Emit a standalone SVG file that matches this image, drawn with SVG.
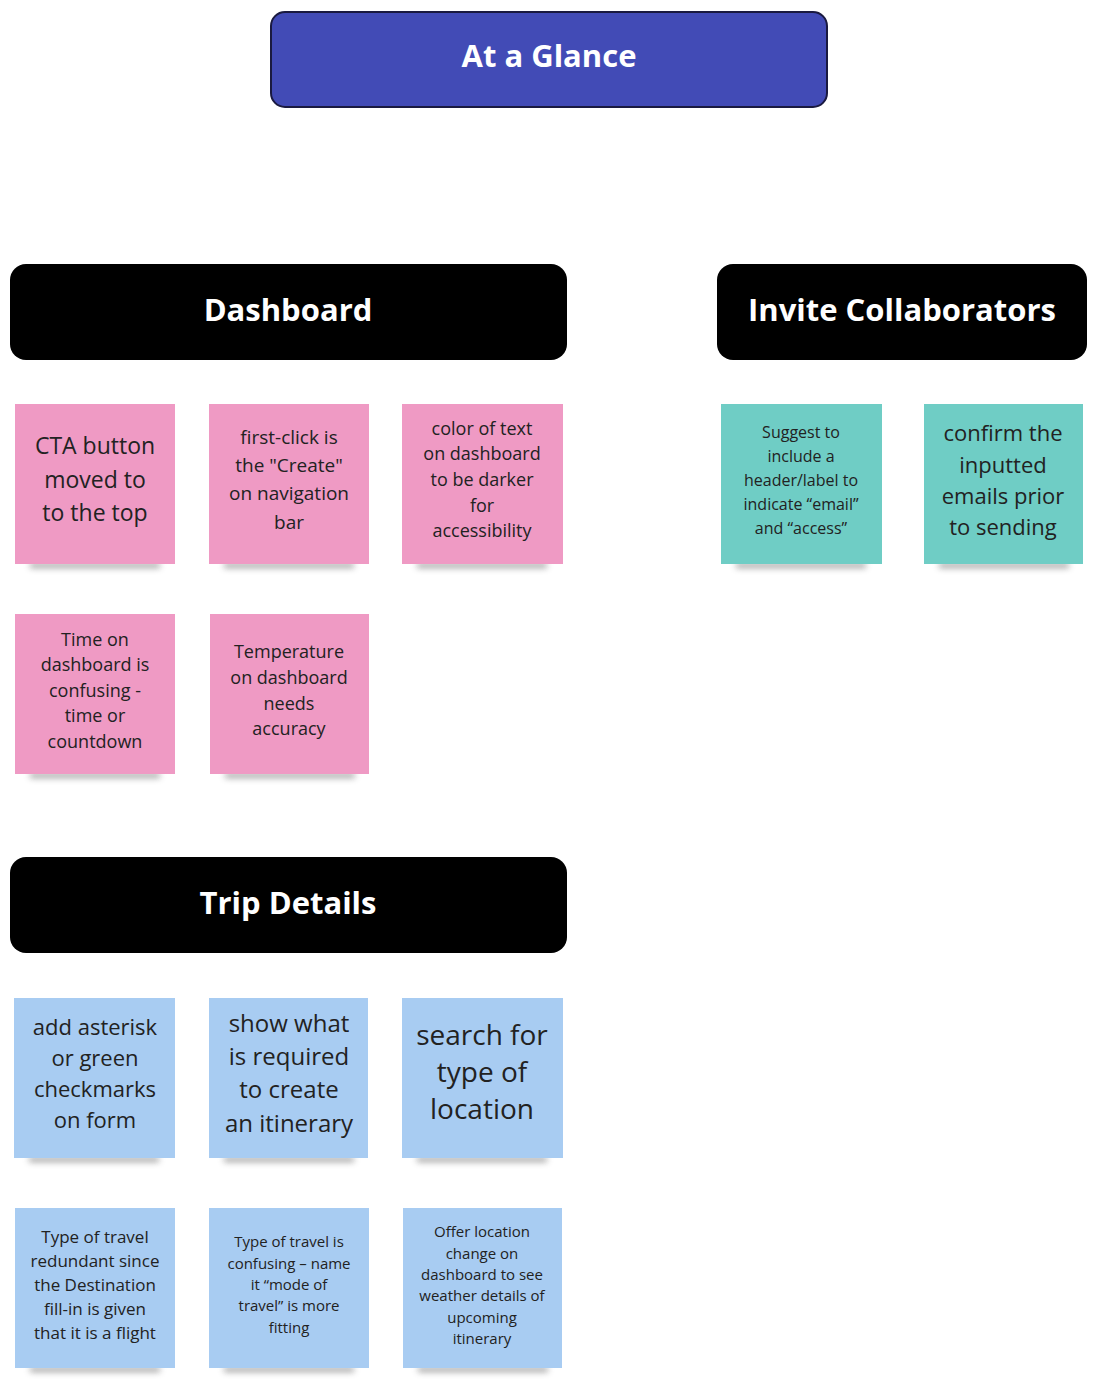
<svg xmlns="http://www.w3.org/2000/svg" width="1104" height="1386" viewBox="0 0 1104 1386">
<style>
text{font-family:"Open Sans","Noto Sans",sans-serif;text-anchor:middle;fill:#222}
.h{fill:#fff;font-weight:bold;font-size:31px}
.hd{fill:#000;rx:16px}
.pk{fill:#EF9AC4}.tl{fill:#6FCDC5}.bl{fill:#A8CCF2}
.sh{fill:#555;opacity:.55;filter:url(#b)}
</style>
<defs><filter id="b" x="-20%" y="-200%" width="140%" height="500%"><feGaussianBlur stdDeviation="3"/></filter></defs>
<rect width="1104" height="1386" fill="#fff"/>
<g id="title"><rect x="271" y="12" width="556" height="95" rx="14" fill="#424BB6" stroke="#1a1a40" stroke-width="2"/><text class="h" x="549" y="67">At a Glance</text></g>
<g id="dashboard"><rect class="hd" x="10" y="264" width="557" height="96" rx="16"/><text class="h" x="288" y="321">Dashboard</text></g>
<g id="invite"><rect class="hd" x="717" y="264" width="370" height="96" rx="16"/><text class="h" x="902" y="321">Invite Collaborators</text></g>
<g id="trip"><rect class="hd" x="10" y="857" width="557" height="96" rx="16"/><text class="h" x="288" y="914">Trip Details</text></g>
<g id="connectors"/>
<g id="d1"><rect class="sh" x="30" y="563" width="130" height="5"/><rect class="pk" x="15" y="404" width="160" height="160"/><text font-size="23"><tspan x="95" y="454">CTA button</tspan><tspan x="95" y="488">moved to</tspan><tspan x="95" y="521">to the top</tspan></text></g>
<g id="d2"><rect class="sh" x="224" y="563" width="130" height="5"/><rect class="pk" x="209" y="404" width="160" height="160"/><text font-size="19"><tspan x="289" y="444">first-click is</tspan><tspan x="289" y="472">the "Create"</tspan><tspan x="289" y="500">on navigation</tspan><tspan x="289" y="529">bar</tspan></text></g>
<g id="d3"><rect class="sh" x="417" y="563" width="130" height="5"/><rect class="pk" x="402" y="404" width="161" height="160"/><text font-size="18"><tspan x="482" y="435">color of text</tspan><tspan x="482" y="460">on dashboard</tspan><tspan x="482" y="486">to be darker</tspan><tspan x="482" y="512">for</tspan><tspan x="482" y="537">accessibility</tspan></text></g>
<g id="d4"><rect class="sh" x="30" y="773" width="130" height="5"/><rect class="pk" x="15" y="614" width="160" height="160"/><text font-size="18"><tspan x="95" y="646">Time on</tspan><tspan x="95" y="671">dashboard is</tspan><tspan x="95" y="697">confusing -</tspan><tspan x="95" y="722">time or</tspan><tspan x="95" y="748">countdown</tspan></text></g>
<g id="d5"><rect class="sh" x="225" y="773" width="130" height="5"/><rect class="pk" x="210" y="614" width="159" height="160"/><text font-size="18"><tspan x="289" y="658">Temperature</tspan><tspan x="289" y="684">on dashboard</tspan><tspan x="289" y="710">needs</tspan><tspan x="289" y="735">accuracy</tspan></text></g>
<g id="i1"><rect class="sh" x="736" y="563" width="130" height="5"/><rect class="tl" x="721" y="404" width="161" height="160"/><text font-size="16"><tspan x="801" y="438">Suggest to</tspan><tspan x="801" y="462">include a</tspan><tspan x="801" y="486">header/label to</tspan><tspan x="801" y="510">indicate “email”</tspan><tspan x="801" y="534">and “access”</tspan></text></g>
<g id="i2"><rect class="sh" x="939" y="563" width="130" height="5"/><rect class="tl" x="924" y="404" width="159" height="160"/><text font-size="22"><tspan x="1003" y="441">confirm the</tspan><tspan x="1003" y="473">inputted</tspan><tspan x="1003" y="504">emails prior</tspan><tspan x="1003" y="535">to sending</tspan></text></g>
<g id="t1"><rect class="sh" x="29" y="1157" width="130" height="5"/><rect class="bl" x="14" y="998" width="161" height="160"/><text font-size="22"><tspan x="95" y="1035">add asterisk</tspan><tspan x="95" y="1066">or green</tspan><tspan x="95" y="1097">checkmarks</tspan><tspan x="95" y="1128">on form</tspan></text></g>
<g id="t2"><rect class="sh" x="224" y="1157" width="130" height="5"/><rect class="bl" x="209" y="998" width="159" height="160"/><text font-size="24"><tspan x="289" y="1032">show what</tspan><tspan x="289" y="1065">is required</tspan><tspan x="289" y="1098">to create</tspan><tspan x="289" y="1132">an itinerary</tspan></text></g>
<g id="t3"><rect class="sh" x="417" y="1157" width="130" height="5"/><rect class="bl" x="402" y="998" width="161" height="160"/><text font-size="28"><tspan x="482" y="1045">search for</tspan><tspan x="482" y="1082">type of</tspan><tspan x="482" y="1119">location</tspan></text></g>
<g id="t4"><rect class="sh" x="30" y="1367" width="130" height="5"/><rect class="bl" x="15" y="1208" width="160" height="160"/><text font-size="17"><tspan x="95" y="1243">Type of travel</tspan><tspan x="95" y="1267">redundant since</tspan><tspan x="95" y="1291">the Destination</tspan><tspan x="95" y="1315">fill-in is given</tspan><tspan x="95" y="1339">that it is a flight</tspan></text></g>
<g id="t5"><rect class="sh" x="224" y="1367" width="130" height="5"/><rect class="bl" x="209" y="1208" width="160" height="160"/><text font-size="15"><tspan x="289" y="1247">Type of travel is</tspan><tspan x="289" y="1269">confusing – name</tspan><tspan x="289" y="1290">it “mode of</tspan><tspan x="289" y="1311">travel” is more</tspan><tspan x="289" y="1333">fitting</tspan></text></g>
<g id="t6"><rect class="sh" x="418" y="1367" width="130" height="5"/><rect class="bl" x="403" y="1208" width="159" height="160"/><text font-size="15"><tspan x="482" y="1237">Offer location</tspan><tspan x="482" y="1259">change on</tspan><tspan x="482" y="1280">dashboard to see</tspan><tspan x="482" y="1301">weather details of</tspan><tspan x="482" y="1323">upcoming</tspan><tspan x="482" y="1344">itinerary</tspan></text></g>
</svg>
